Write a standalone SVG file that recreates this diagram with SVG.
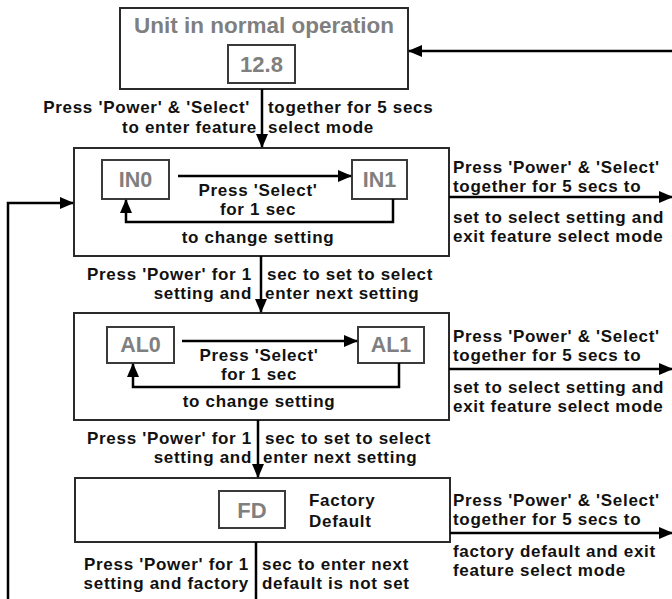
<svg xmlns="http://www.w3.org/2000/svg" width="672" height="599" viewBox="0 0 672 599">
<defs>
<marker id="ah" markerUnits="userSpaceOnUse" markerWidth="14" markerHeight="12" refX="13" refY="6" orient="auto"><path d="M0,0 L14,6 L0,12 z" fill="#000"/></marker>
<style>
.box{fill:#fff;stroke:#2a2a2a;stroke-width:2}
.ibox{fill:#fff;stroke:#3a3a3a;stroke-width:2}
.nt{font-family:"Liberation Sans",Arial,sans-serif;font-weight:bold;fill:#7f7f7f;text-anchor:middle}
.lb{font-family:"Liberation Sans",Arial,sans-serif;font-weight:bold;font-size:17px;letter-spacing:0.7px;fill:#111}
.m{text-anchor:middle}
.e{text-anchor:end}
.ln{fill:none;stroke:#000;stroke-width:2.5}
</style>
</defs>
<rect width="672" height="599" fill="#fff"/>

<g id="normal">
<rect class="box" x="120" y="8" width="288" height="81"/>
<text class="nt" x="264" y="33" font-size="22.5">Unit in normal operation</text>
<rect class="ibox" x="228" y="45" width="67" height="38"/>
<text class="nt" x="261.5" y="72" font-size="22" font-weight="normal">12.8</text>
</g>

<g id="mode-in">
<rect class="box" x="74" y="148" width="375" height="108"/>
<g id="in0"><rect class="ibox" x="102" y="160" width="67" height="39"/><text class="nt" x="135.5" y="187" font-size="21.5">IN0</text></g>
<g id="in1"><rect class="ibox" x="352" y="160" width="55" height="39"/><text class="nt" x="379.5" y="187" font-size="21.5">IN1</text></g>
<text class="lb m" x="258" y="196">Press 'Select'</text>
<text class="lb m" x="258" y="215">for 1 sec</text>
<text class="lb m" x="258" y="243">to change setting</text>
</g>

<g id="mode-al">
<rect class="box" x="74" y="313" width="375" height="107"/>
<g id="al0"><rect class="ibox" x="107" y="327" width="67" height="36"/><text class="nt" x="140.5" y="352" font-size="21.5">AL0</text></g>
<g id="al1"><rect class="ibox" x="358" y="327" width="66" height="36"/><text class="nt" x="391" y="352" font-size="21.5">AL1</text></g>
<text class="lb m" x="259" y="361">Press 'Select'</text>
<text class="lb m" x="259" y="380">for 1 sec</text>
<text class="lb m" x="259" y="407">to change setting</text>
</g>

<g id="mode-fd">
<rect class="box" x="75" y="478" width="375" height="64"/>
<g id="fd"><rect class="ibox" x="219" y="491" width="66" height="37"/><text class="nt" x="252" y="518" font-size="22">FD</text></g>
<text class="lb" x="309" y="506">Factory</text>
<text class="lb" x="309" y="527">Default</text>
</g>

<g id="connectors">
<path class="ln" d="M672,51 H409" marker-end="url(#ah)"/>
<path class="ln" d="M262,89 V147" marker-end="url(#ah)"/>
<path class="ln" d="M178,176 H351" marker-end="url(#ah)"/>
<path class="ln" d="M393,199 V222 H126 V200" marker-end="url(#ah)"/>
<path class="ln" d="M449,197 H672" marker-end="url(#ah)"/>
<path class="ln" d="M261,256 V312" marker-end="url(#ah)"/>
<path class="ln" d="M182,341 H357" marker-end="url(#ah)"/>
<path class="ln" d="M399,363 V387 H133 V364" marker-end="url(#ah)"/>
<path class="ln" d="M449,369 H672" marker-end="url(#ah)"/>
<path class="ln" d="M258,420 V477" marker-end="url(#ah)"/>
<path class="ln" d="M450,533 H672" marker-end="url(#ah)"/>
<path class="ln" d="M256,542 V599"/>
<path class="ln" d="M8,599 V203 H73" marker-end="url(#ah)"/>
</g>

<g id="labels">
<text class="lb e" x="250" y="113">Press 'Power' &amp; 'Select'</text>
<text class="lb" x="268" y="113">together for 5 secs</text>
<text class="lb e" x="257" y="133">to enter feature</text>
<text class="lb" x="268" y="133">select mode</text>

<text class="lb" x="453" y="173">Press 'Power' &amp; 'Select'</text>
<text class="lb" x="453" y="192">together for 5 secs to</text>
<text class="lb" x="453" y="223">set to select setting and</text>
<text class="lb" x="453" y="242">exit feature select mode</text>

<text class="lb e" x="252" y="280">Press 'Power' for 1</text>
<text class="lb" x="267" y="280">sec to set to select</text>
<text class="lb e" x="252" y="299">setting and</text>
<text class="lb" x="265" y="299">enter next setting</text>

<text class="lb" x="453" y="342">Press 'Power' &amp; 'Select'</text>
<text class="lb" x="453" y="361">together for 5 secs to</text>
<text class="lb" x="453" y="393">set to select setting and</text>
<text class="lb" x="453" y="412">exit feature select mode</text>

<text class="lb e" x="252" y="444">Press 'Power' for 1</text>
<text class="lb" x="265" y="444">sec to set to select</text>
<text class="lb e" x="252" y="463">setting and</text>
<text class="lb" x="263" y="463">enter next setting</text>

<text class="lb" x="453" y="506">Press 'Power' &amp; 'Select'</text>
<text class="lb" x="453" y="525">together for 5 secs to</text>
<text class="lb" x="453" y="557">factory default and exit</text>
<text class="lb" x="453" y="576">feature select mode</text>

<text class="lb e" x="249" y="570">Press 'Power' for 1</text>
<text class="lb" x="262" y="570">sec to enter next</text>
<text class="lb e" x="249" y="589">setting and factory</text>
<text class="lb" x="262" y="589">default is not set</text>
</g>
</svg>
